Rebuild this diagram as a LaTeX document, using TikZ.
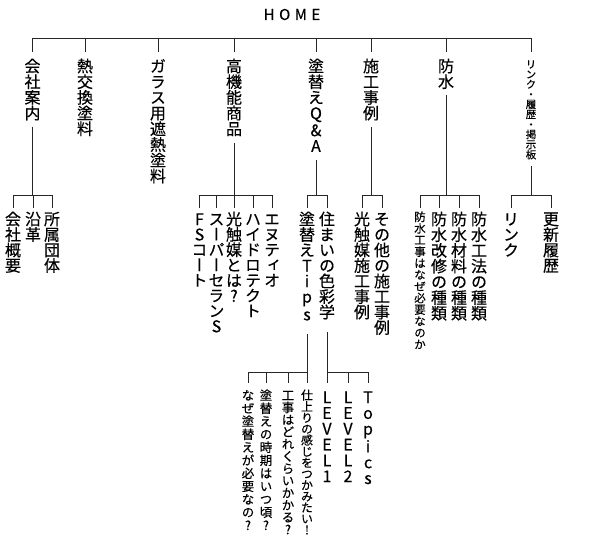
\documentclass[tikz,border=0pt]{standalone}
\usepackage{fontspec}
\setmainfont{Noto Sans CJK JP}[RawFeature=+vert,FakeBold=0.4]
\ExplSyntaxOn
\NewDocumentCommand\vt{mmm}{%
  \vbox{\offinterlineskip\fontsize{#1}{#2}\selectfont
    \tl_map_inline:nn{#3}{\hbox_to_wd:nn{0.85em}{\hss\vrule height 0.88em depth \dimexpr #2pt-0.88em\relax width 0pt ##1\hss}}}}
\ExplSyntaxOff
\begin{document}
\begin{tikzpicture}[x=1pt,y=-1pt,line width=1pt,
  lk/.style={draw=black!85},
  topn/.style={anchor=north,inner xsep=0pt,inner ysep=5.5pt},
  subn/.style={anchor=north,inner xsep=0pt,inner ysep=2.5pt},
  leafn/.style={anchor=north,inner xsep=0pt,inner ysep=5.5pt}]
\useasboundingbox (0,0) rectangle (599,544);
\node[inner sep=0pt] (home) at (292,14.5) {\fontsize{15}{15}\selectfont H\kern4.5pt O\kern4.5pt M\kern4.5pt E};
\coordinate (b0) at (0,38);
\coordinate (b1) at (0,195);
\coordinate (b3) at (0,372);
% level 1
\node[topn] (n1) at (32.5,52) {\vt{16}{15.7}{会社案内}};
\node[topn] (n2) at (85,52) {\vt{16}{15.7}{熱交換塗料}};
\node[topn] (n3) at (158,52) {\vt{16}{15.7}{ガラス用遮熱塗料}};
\node[topn] (n4) at (234,52) {\vt{16}{15.7}{高機能商品}};
\node[topn] (n5) at (316,52) {\vt{16}{15.7}{塗替えQ\&A}};
\node[topn] (n6) at (371,52) {\vt{16}{15.7}{施工事例}};
\node[topn] (n7) at (446,52) {\vt{16}{15.7}{防水}};
\node[topn,inner ysep=6.5pt] (n8) at (531,52) {\vt{10.5}{10}{リンク・履歴・掲示板}};
\draw[lk] (n1.north |- b0) -- (n8.north |- b0);
\foreach \n in {n1,n2,n3,n4,n5,n6,n7,n8} \draw[lk] (\n.north |- b0) -- (\n.north);
% level 2
\node[subn] (a1) at (13,208) {\vt{16}{15.5}{会社概要}};
\node[subn] (a2) at (33,208) {\vt{16}{15.5}{沿革}};
\node[subn] (a3) at (52,208) {\vt{16}{15.5}{所属団体}};
\node[subn] (p1) at (199.5,208) {\vt{16}{15.3}{FSコート}};
\node[subn] (p2) at (216.5,208) {\vt{16}{15.3}{スーパーセランS}};
\node[subn] (p3) at (234,208) {\vt{16}{15.3}{光触媒とは?}};
\node[subn] (p4) at (253,208) {\vt{16}{15.3}{ハイドロテクト}};
\node[subn] (p5) at (272,208) {\vt{16}{15.3}{エヌティオ}};
\node[subn] (t1) at (307,208) {\vt{16}{15.5}{塗替えTips}};
\node[subn] (t2) at (327,208) {\vt{16}{15.5}{住まいの色彩学}};
\node[subn] (s1) at (362,208) {\vt{16}{15.5}{光触媒施工事例}};
\node[subn] (s2) at (382,208) {\vt{16}{15.5}{その他の施工事例}};
\node[subn] (w1) at (420,208) {\vt{11.5}{11.6}{防水工事はなぜ必要なのか}};
\node[subn] (w2) at (439,208) {\vt{16}{15.7}{防水改修の種類}};
\node[subn] (w3) at (459,208) {\vt{16}{15.7}{防水材料の種類}};
\node[subn] (w4) at (479,208) {\vt{16}{15.7}{防水工法の種類}};
\node[subn] (r1) at (511,208) {\vt{16}{15.5}{リンク}};
\node[subn] (r2) at (551,208) {\vt{16}{15.5}{更新履歴}};
\foreach \p/\f/\l in {n1/a1/a3,n4/p1/p5,n5/t1/t2,n6/s1/s2,n7/w1/w4,n8/r1/r2}{
  \draw[lk] (\p.south) -- (\p.south |- b1);
  \draw[lk] (\f.north |- b1) -- (\l.north |- b1);
}
\foreach \n in {a1,a2,a3,p1,p2,p3,p4,p5,t1,t2,s1,s2,w1,w2,w3,w4,r1,r2}
  \draw[lk] (\n.north |- b1) -- (\n.north);
% level 3
\node[leafn] (c1) at (248,383) {\vt{12.5}{13}{なぜ塗替えが必要なの?}};
\node[leafn] (c2) at (266,383) {\vt{12.5}{13}{塗替えの時期はいつ頃?}};
\node[leafn] (c3) at (288,383) {\vt{12.5}{12.2}{工事はどれくらいかかる?}};
\node[leafn] (c4) at (307,383) {\vt{12}{11.2}{仕上りの感じをつかみたい!}};
\node[leafn] (d1) at (327,383) {\vt{16}{15.8}{LEVEL1}};
\node[leafn] (d2) at (348,383) {\vt{16}{15.8}{LEVEL2}};
\node[leafn] (d3) at (368,383) {\vt{16}{15.8}{Topics}};
\foreach \p/\f/\l in {t1/c1/c4,t2/d1/d3}{
  \draw[lk,shorten <=9.5pt] (\p.south) -- (\p.south |- b3);
  \draw[lk] (\f.north |- b3) -- (\l.north |- b3);
}
\foreach \n in {c1,c2,c3,c4,d1,d2,d3}
  \draw[lk] (\n.north |- b3) -- (\n.north);
\end{tikzpicture}
\end{document}
